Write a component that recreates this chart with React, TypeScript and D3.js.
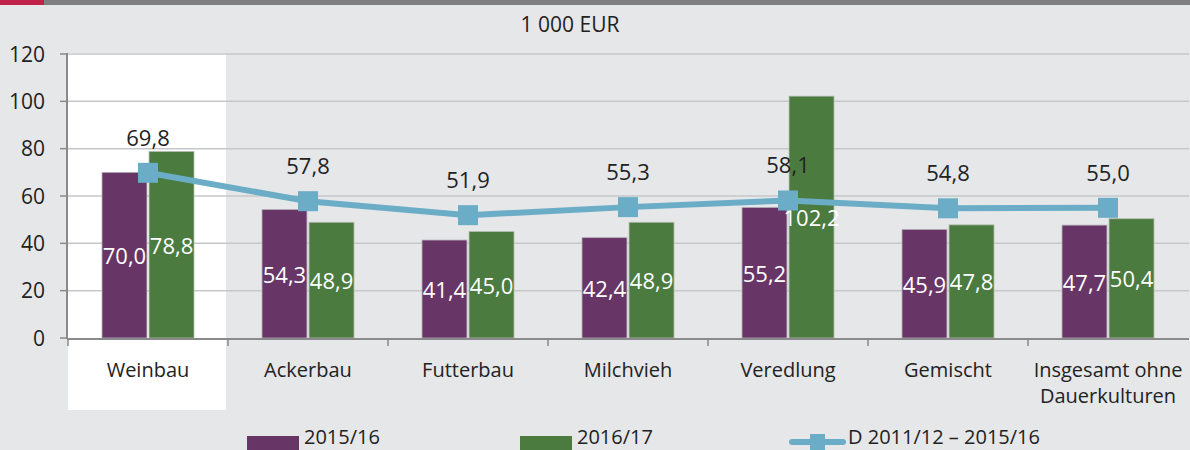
import React from "react";
import * as d3 from "d3";

const categories = ["Weinbau", "Ackerbau", "Futterbau", "Milchvieh", "Veredlung", "Gemischt", "Insgesamt ohne\nDauerkulturen"];
const series2015 = [70.0, 54.3, 41.4, 42.4, 55.2, 45.9, 47.7];
const series2016 = [78.8, 48.9, 45.0, 48.9, 102.2, 47.8, 50.4];
const seriesAvg = [69.8, 57.8, 51.9, 55.3, 58.1, 54.8, 55.0];
const yTicks = [0, 20, 40, 60, 80, 100, 120];
const legendLabels = ["2015/16", "2016/17", "D 2011/12 \u2013 2015/16"];
const unitLabel = "1 000 EUR";

const W = 1190;
const H = 450;
const PURPLE = "#673667";
const GREEN = "#4b7b3f";
const BLUE = "#6badc7";
const BG = "#e6e7e9";
const FONT = "'Open Sans', 'Noto Sans', sans-serif";
const fmt = (v: number) => v.toFixed(1).replace(".", ",");

export default function App() {
  const x = d3.scaleBand<string>().domain(categories).range([68, 1188]).paddingInner(0).paddingOuter(0);
  const y = d3.scaleLinear().domain([0, 120]).range([338, 54]);
  const x1 = d3.scaleBand<string>().domain(["a", "b"]).range([-46, 46]).paddingInner(0.044);
  const bw = x1.bandwidth();
  const cx = (c: string) => (x(c) as number) + x.bandwidth() / 2;
  const line = d3
    .line<number>()
    .x((_, i) => cx(categories[i]))
    .y((d) => y(d));

  return (
    <svg width={W} height={H} style={{ position: "absolute", left: 0, top: 0, display: "block" }} fontFamily={FONT}>
      <rect x={0} y={0} width={W} height={H} fill={BG} />
      <rect x={0} y={0} width={W} height={5} fill="#7f7f82" />
      <rect x={0} y={0} width={44} height={5} fill="#c0224c" />
      <text x={570} y={32} fontSize={21} textAnchor="middle" fill="#222">{unitLabel}</text>

      {/* highlighted Weinbau band */}
      <rect x={x(categories[0])} y={53} width={x.bandwidth() - 2} height={357} fill="#ffffff" />

      {/* gridlines */}
      {yTicks.filter((t) => t > 0).map((t) => (
        <line key={t} x1={68} x2={1189} y1={y(t)} y2={y(t)} stroke="#c6c7c9" strokeWidth={1.5} />
      ))}

      {/* y axis */}
      <line x1={67} x2={67} y1={53} y2={339} stroke="#8a8a8c" strokeWidth={2} />
      {yTicks.map((t) => (
        <g key={t}>
          <line x1={60} x2={67} y1={y(t)} y2={y(t)} stroke="#8a8a8c" strokeWidth={1.5} />
          <text x={45} y={y(t) + 7.5} fontSize={21} textAnchor="end" fill="#222">{t}</text>
        </g>
      ))}

      {/* bars */}
      {categories.map((c, i) => {
        const xa = cx(c) + (x1("a") as number);
        const xb = cx(c) + (x1("b") as number);
        const va = series2015[i];
        const vb = series2016[i];
        return (
          <g key={c}>
            <rect x={xa} y={y(va)} width={bw} height={y(0) - y(va)} fill={PURPLE} stroke="#b9b3bb" strokeWidth={0.8} />
            <rect x={xb} y={y(vb)} width={bw} height={y(0) - y(vb)} fill={GREEN} stroke="#b4bcb2" strokeWidth={0.8} />
            <text x={xa + bw / 2} y={(y(va) + y(0)) / 2 + 9} fontSize={22} textAnchor="middle" fill="#fff">{fmt(va)}</text>
            <text x={xb + bw / 2} y={(y(vb) + y(0)) / 2 + 9} fontSize={22} textAnchor="middle" fill="#fff">{fmt(vb)}</text>
          </g>
        );
      })}

      {/* x axis */}
      <line x1={67} x2={1189} y1={339} y2={339} stroke="#8a8a8c" strokeWidth={2} />
      {categories.map((c) => (
        <line key={c} x1={x(c)} x2={x(c)} y1={339} y2={346} stroke="#8a8a8c" strokeWidth={1.5} />
      ))}
      {categories.map((c) => (
        <text key={c} x={cx(c)} y={377} fontSize={20} textAnchor="middle" fill="#222">
          {c.split("\n").map((l, j) => (
            <tspan key={j} x={cx(c)} dy={j === 0 ? 0 : 25.5}>{l}</tspan>
          ))}
        </text>
      ))}

      {/* average line */}
      <path d={line(seriesAvg) || ""} fill="none" stroke={BLUE} strokeWidth={6} />
      {seriesAvg.map((v, i) => (
        <g key={i}>
          <rect x={cx(categories[i]) - 10} y={y(v) - 10} width={20} height={20} fill={BLUE} />
          <text x={cx(categories[i])} y={y(v) - 27} fontSize={22} textAnchor="middle" fill="#222">{fmt(v)}</text>
        </g>
      ))}

      {/* legend */}
      <g>
        <rect x={247} y={436} width={52} height={20} fill={PURPLE} />
        <text x={304} y={444} fontSize={20} fill="#222">{legendLabels[0]}</text>
        <rect x={520} y={436} width={52} height={20} fill={GREEN} />
        <text x={577} y={444} fontSize={20} fill="#222">{legendLabels[1]}</text>
        <line x1={792} x2={843} y1={442} y2={442} stroke={BLUE} strokeWidth={6} strokeLinecap="round" />
        <rect x={810} y={434} width={15} height={20} fill={BLUE} />
        <text x={848} y={444} fontSize={20} fill="#222">{legendLabels[2]}</text>
      </g>
    </svg>
  );
}
